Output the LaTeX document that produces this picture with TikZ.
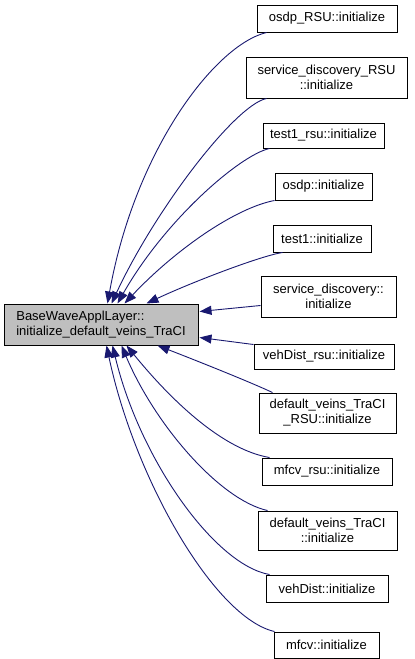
\documentclass[tikz,border=0pt]{standalone}
\usepackage{fontspec}
\setmainfont{Liberation Sans}
\usetikzlibrary{arrows.meta,calc}
\definecolor{edgeblue}{HTML}{191970}
\definecolor{maingray}{HTML}{BFBFBF}
\begin{document}
\begin{tikzpicture}[x=1pt,y=-1pt,
  box/.style={draw=black,line width=1pt,inner sep=0pt,align=center,font=\fontsize{13}{15}\selectfont},
  edge/.style={draw=edgeblue,line width=0.9pt,-{Triangle[length=12pt,width=9pt]}}]
\useasboundingbox (0,0) rectangle (415,659);
\node[box,fill=maingray,align=left,minimum width=194pt,minimum height=41pt] (m) at (101,324.5) {BaseWaveApplLayer::\\initialize\_default\_veins\_TraCI};
\node[box,minimum width=140pt,minimum height=27pt] (n1) at (327,18.5) {osdp\_RSU::initialize};
\node[box,minimum width=161pt,minimum height=41pt] (n2) at (326.5,77.5) {service\_discovery\_RSU\\::initialize};
\node[box,minimum width=121pt,minimum height=25pt] (n3) at (323.5,135.5) {test1\_rsu::initialize};
\node[box,minimum width=97pt,minimum height=27pt] (n4) at (323.5,186.5) {osdp::initialize};
\node[box,minimum width=98pt,minimum height=27pt] (n5) at (322,238.5) {test1::initialize};
\node[box,minimum width=135pt,minimum height=41pt] (n6) at (328.5,296.5) {service\_discovery::\\initialize};
\node[box,minimum width=140pt,minimum height=25pt] (n7) at (324,356.5) {vehDist\_rsu::initialize};
\node[box,minimum width=137pt,minimum height=40pt] (n8) at (327.5,413) {default\_veins\_TraCI\\\_RSU::initialize};
\node[box,minimum width=130pt,minimum height=27pt] (n9) at (327,471.5) {mfcv\_rsu::initialize};
\node[box,minimum width=139pt,minimum height=39pt] (n10) at (327.5,530.5) {default\_veins\_TraCI\\::initialize};
\node[box,minimum width=122pt,minimum height=27pt] (n11) at (327,588.5) {vehDist::initialize};
\node[box,minimum width=105pt,minimum height=26pt] (n12) at (326.5,645) {mfcv::initialize};

\draw[edge] ($(n1.south west)+(10,0)$) .. controls (215,45) and (135,150) .. ($(m.north west)+(104,0)$);
\draw[edge] ($(n2.south west)+(21,0)$) .. controls (235,105) and (155,210) .. ($(m.north west)+(108,0)$);
\draw[edge] ($(n3.south west)+(7,0)$) .. controls (240,155) and (165,220) .. ($(m.north west)+(114,0)$);
\draw[edge] (n4.south west) .. controls (235,208) and (175,250) .. ($(m.north west)+(121,0)$);
\draw[edge] ($(n5.south west)+(10,0)$) .. controls (260,256) and (190,283) .. ($(m.north west)+(143,0)$);
\draw[edge] ($(n6.south west)+(0,-12)$) -- ($(m.north east)+(1,8)$);
\draw[edge] ($(n7.north west)+(0,1)$) -- ($(m.north east)+(1,34)$);
\draw[edge] ($(n8.north west)+(14,0)$) .. controls (250,382) and (200,362) .. ($(m.south west)+(154,0)$);
\draw[edge] ($(n9.north west)+(8,0)$) .. controls (225,450) and (175,405) .. ($(m.south west)+(123,0)$);
\draw[edge] ($(n10.north west)+(10,0)$) .. controls (220,500) and (155,425) .. ($(m.south west)+(118,0)$);
\draw[edge] ($(n11.north west)+(4,0)$) .. controls (215,565) and (140,460) .. ($(m.south west)+(109,0)$);
\draw[edge] ($(n12.north west)+(1,0)$) .. controls (215,618) and (135,480) .. ($(m.south west)+(103,0)$);
\end{tikzpicture}
\end{document}
